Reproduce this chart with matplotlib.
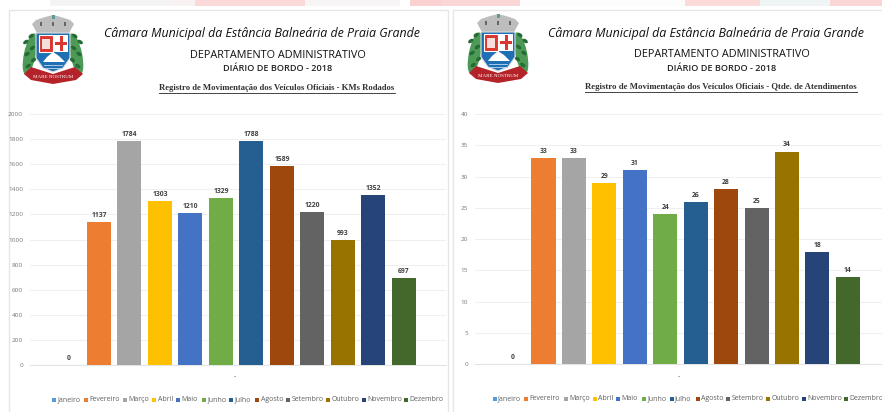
import matplotlib
matplotlib.use("Agg")
import matplotlib.pyplot as plt
from matplotlib.patches import Polygon, Rectangle, Ellipse

months = ["Janeiro", "Fevereiro", "Março", "Abril", "Maio", "Junho", "Julho",
          "Agosto", "Setembro", "Outubro", "Novembro", "Dezembro"]
colors = ["#5B9BD5", "#ED7D31", "#A5A5A5", "#FFC000", "#4472C4", "#70AD47",
          "#255E91", "#9E480E", "#636363", "#997300", "#264478", "#43682B"]
kms = [0, 1137, 1784, 1303, 1210, 1329, 1788, 1589, 1220, 993, 1352, 697]
atend = [0, 33, 33, 29, 31, 24, 26, 28, 25, 34, 18, 14]
km_ticks = list(range(0, 2001, 200))
at_ticks = list(range(0, 41, 5))
title_main = "Câmara Municipal da Estância Balneária de Praia Grande"
title_dep = "DEPARTAMENTO ADMINISTRATIVO"
title_dia = "DIÁRIO DE BORDO - 2018"
sub_km = "Registro de Movimentação dos Veículos Oficiais - KMs Rodados"
sub_at = "Registro de Movimentação dos Veículos Oficiais - Qtde. de Atendimentos"

W, H = 882, 412
fig = plt.figure(figsize=(W / 100, H / 100), dpi=100)
fig.patch.set_facecolor("white")
FONT = "Open Sans"


def px_axes(x0, y0, x1, y1):
    return fig.add_axes([x0 / W, 1 - y1 / H, (x1 - x0) / W, (y1 - y0) / H])


bg = px_axes(0, 0, W, H)
bg.set_xlim(0, W)
bg.set_ylim(H, 0)
bg.axis("off")

# faded strip of the page behind the panels
for x0, x1, c in [(50, 170, "#F4F4F4"), (170, 195, "#F8F2F2"), (195, 305, "#FAD9D9"), (305, 400, "#F7F5F5"),
                  (410, 441, "#FBD0D0"), (441, 520, "#FBD6D6"), (520, 685, "#FDFCFC"),
                  (685, 760, "#FBDADA"), (760, 830, "#EFF5F5"), (830, 882, "#FBD6D6")]:
    bg.add_patch(Rectangle((x0, 0), x1 - x0, 5.5, fc=c, ec="none"))
# panel edges
bg.plot([9, 9, 448, 448], [412, 10, 10, 412], color="#E6E6E6", lw=1)
bg.plot([453, 453, 882], [412, 10, 10], color="#E6E6E6", lw=1)


def logo(dx, dy):
    """Municipal crest; dx, dy shift it from the place it has in the left panel."""
    def P(pts):
        return [(x + dx, y + dy) for x, y in pts]
    g = bg
    for side, cx in ((-1, 30), (1, 76)):
        g.add_patch(Ellipse((cx + dx, 54 + dy), 12, 42, fc="#4C9A55", ec="none",
                            angle=side * -12, zorder=3))
        for k in range(7):
            g.add_patch(Ellipse((cx + dx + side * (3 if k % 2 else -3) + side * (k - 3) * -0.6, 36 + k * 6 + dy),
                                6, 3.6, fc="#256B36", ec="none", angle=side * 35, zorder=4))
    # crown
    g.add_patch(Polygon(P([(37, 33), (32, 24), (36, 20), (45, 17), (53, 15), (61, 17), (70, 20), (74, 24), (69, 33)]),
                        fc="#BDBDBD", ec="none", zorder=5))
    for x in (41, 53, 65):
        g.add_patch(Rectangle((x - 1.2 + dx, 22 + dy), 2.4, 4, fc="#666666", ec="none", zorder=6))
    g.add_patch(Rectangle((51.5 + dx, 14.5 + dy), 3, 4, fc="#5A9C9C", ec="none", zorder=6))
    # shield
    g.add_patch(Polygon(P([(36, 33), (70, 33), (70, 58), (63, 68), (53, 72), (43, 68), (36, 58)]),
                        fc="#1F6FB5", ec="#DDDDDD", lw=0.8, zorder=5))
    g.add_patch(Rectangle((38.5 + dx, 35 + dy), 14, 17, fc="#D9372F", ec="white", lw=0.8, zorder=6))
    g.add_patch(Rectangle((41.5 + dx, 38.5 + dy), 8, 10, fc="#F5DEDC", ec="none", zorder=7))
    g.add_patch(Rectangle((54 + dx, 35 + dy), 14, 17, fc="white", ec="none", zorder=6))
    g.add_patch(Rectangle((59.5 + dx, 36 + dy), 3.4, 15, fc="#D9372F", ec="none", zorder=7))
    g.add_patch(Rectangle((55 + dx, 41.5 + dy), 12, 3.4, fc="#D9372F", ec="none", zorder=7))
    g.add_patch(Polygon(P([(43, 62), (47, 57), (53, 52), (59, 56), (65, 62)]), fc="white", ec="none", zorder=7))
    for y in (65, 67.5):
        g.plot([44 + dx, 62 + dx], [y + dy, y + dy], color="#BFD9EE", lw=0.6, zorder=7)
    # banner
    g.add_patch(Polygon(P([(24, 74), (31, 67), (53, 74), (75, 67), (83, 74), (76, 80), (53, 84), (31, 80)]),
                        fc="#B5232A", ec="none", zorder=8))
    g.text(53 + dx, 76.5 + dy, "MARE NOSTRUM", fontsize=3.6, family="Liberation Serif", color="white",
           ha="center", va="center", zorder=9)


def panel(cx_title, title_x, dep_y, dia_y, sub, sub_x, sub_y, sub_size, sub_x0, sub_x1, ax_box, xlim,
          values, ticks, ymax, leg_x, leg_y, dash_x):
    bg.text(title_x, 33, title_main, fontsize=8.9, style="italic", family=FONT, color="#111111",
            ha="center", va="center")
    bg.text(cx_title, dep_y, title_dep, fontsize=7.8, family=FONT, color="#111111", ha="center", va="center")
    bg.text(cx_title, dia_y, title_dia, fontsize=6.6, family=FONT, fontweight="semibold",
            color="#222222", ha="center", va="center")
    bg.text(sub_x, sub_y, sub, fontsize=sub_size, family="Liberation Serif", fontweight="bold",
            color="#333333", ha="center", va="center")
    bg.plot([sub_x0, sub_x1], [sub_y + 4.5, sub_y + 4.5], color="#444444", lw=0.7)

    ax = px_axes(*ax_box)
    ax.patch.set_alpha(0)
    ax.bar(range(12), values, width=0.79, color=colors, zorder=3)
    ax.set_xlim(*xlim)
    ax.set_ylim(0, ymax)
    ax.set_yticks(ticks)
    ax.set_yticklabels([str(t) for t in ticks], fontsize=4.6, color="#777777", family=FONT)
    ax.set_xticks([])
    ax.tick_params(axis="y", length=0, pad=5)
    ax.grid(axis="y", color="#EFEFEF", lw=0.8, zorder=0)
    for s in ("top", "right", "left"):
        ax.spines[s].set_visible(False)
    ax.spines["bottom"].set_color("#E4E4E4")
    for i, v in enumerate(values):
        ax.annotate(str(v), (i, v), xytext=(0, 3), textcoords="offset pixels", ha="center", va="bottom",
                    fontsize=4.9, fontweight="bold", color="#404040", family=FONT, zorder=4)
    bg.text(dash_x, 377, "-", fontsize=5, color="#555555", ha="center", va="center", family=FONT)
    # legend
    offsets = [0, 31.7, 71, 100, 123.7, 149.4, 177, 203, 233.7, 273.4, 309.4, 351.4]
    for m, c, off in zip(months, colors, offsets):
        bg.add_patch(Rectangle((leg_x + off, leg_y - 2), 4, 4, fc=c, ec="none"))
        bg.text(leg_x + off + 5.5, leg_y, m, fontsize=5.0, color="#606060", family=FONT, ha="left", va="center")


panel(277.5, 261.7, 55, 68, sub_km, 277, 88, 6.25, 159, 395, (30, 114, 446, 365), (-1.26, 12.38),
      kms, km_ticks, 2000, 52.3, 399.5, 235)
panel(721.8, 706.3, 54, 68, sub_at, 721, 87, 6.3, 585, 857, (475, 114, 882, 364), (-1.25, 12.12),
      atend, at_ticks, 40, 492.5, 398.5, 679)
logo(0, 0)
logo(445, -1)

fig.savefig("out.png", dpi=100)
